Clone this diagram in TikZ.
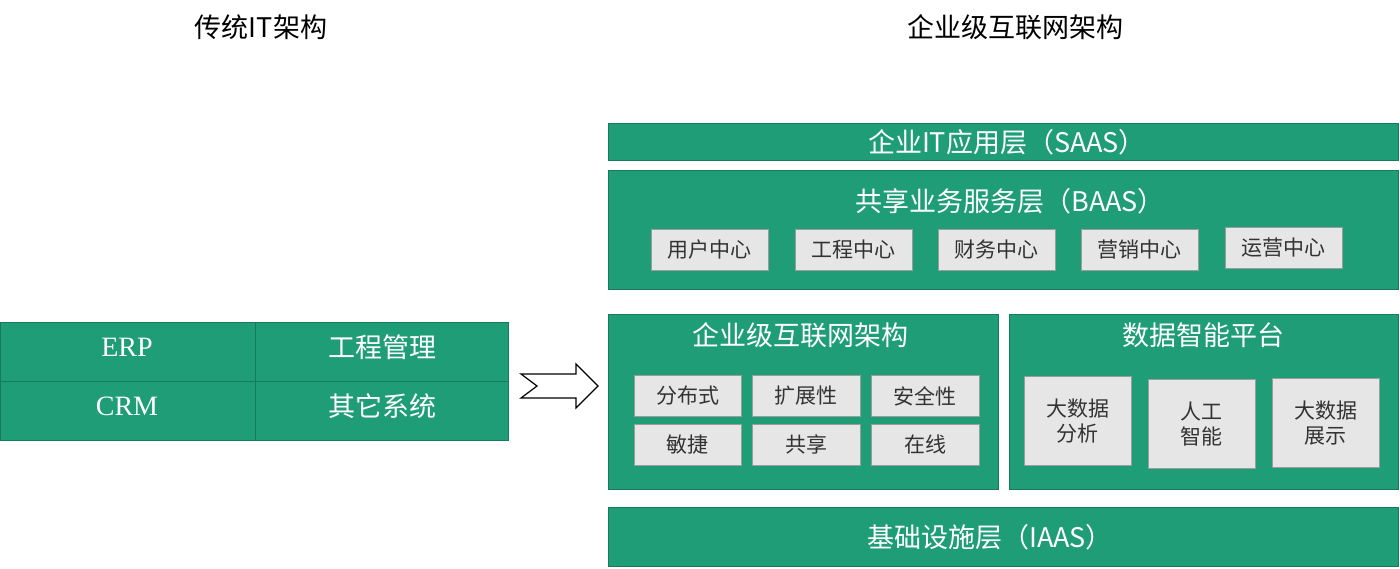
\documentclass[tikz,border=0pt]{standalone}
\usepackage{fontspec}
\setmainfont{Liberation Serif}
\newfontfamily\cjk{Noto Sans CJK SC}
\definecolor{tgreen}{HTML}{1F9D77}
\definecolor{tborder}{HTML}{187A5D}
\definecolor{gbox}{HTML}{E6E6E6}
\definecolor{gborder}{HTML}{9C9C9C}
\definecolor{gtext}{HTML}{333333}
\begin{document}
\begin{tikzpicture}[x=1pt,y=-1pt,
  greenbox/.style={fill=tgreen,draw=tborder,line width=1pt,anchor=north west,inner sep=0pt},
  graybox/.style={fill=gbox,draw=gborder,line width=0.8pt,anchor=north west,inner sep=0pt,
    text=gtext,font=\cjk\fontsize{21}{25}\selectfont,align=center},
  wtitle/.style={text=white,font=\cjk\fontsize{27}{31}\selectfont,inner sep=0pt},
  htitle/.style={text=black,font=\cjk\fontsize{27}{31}\selectfont,inner sep=0pt},
  cell/.style={text=white,inner sep=0pt}]
\useasboundingbox (0,0) rectangle (1400,569);
\fill[white] (0,0) rectangle (1400,569);

% headings
\node[htitle] (h1) at (261,27) {传统IT架构};
\node[htitle] (h2) at (1015,27) {企业级互联网架构};

% left table
\node[greenbox,minimum width=508pt,minimum height=118pt] (tbl) at (0,322) {};
\draw[tborder,line width=0.8pt] (0,381) -- (508,381);
\draw[tborder,line width=0.8pt] (255,322) -- (255,440);
\node[cell,font=\fontsize{28}{32}\selectfont] (erp) at (127,347) {ERP};
\node[cell,font=\cjk\fontsize{27}{31}\selectfont] (gc) at (382,347) {工程管理};
\node[cell,font=\fontsize{28}{32}\selectfont] (crm) at (127,406) {CRM};
\node[cell,font=\cjk\fontsize{27}{31}\selectfont] (qt) at (382,406) {其它系统};

% arrow
\draw[black,line width=1.2pt,fill=white,line join=miter]
  (521,374) -- (576,374) -- (576,364) -- (598,386) -- (576,408) -- (576,398) -- (521,398) -- (537,386) -- cycle;

% SAAS
\node[greenbox,minimum width=790pt,minimum height=37pt] (saas) at (608,123) {};
\node[wtitle] (saast) at (1007,142) {企业IT应用层（SAAS）};

% BAAS
\node[greenbox,minimum width=790pt,minimum height=119pt] (baas) at (608,170) {};
\node[wtitle] (baast) at (1010,201) {共享业务服务层（BAAS）};
\node[graybox,minimum width=117pt,minimum height=41pt] (b1) at (651,229) {用户中心};
\node[graybox,minimum width=117pt,minimum height=41pt] (b2) at (795,229) {工程中心};
\node[graybox,minimum width=117pt,minimum height=41pt] (b3) at (938,229) {财务中心};
\node[graybox,minimum width=117pt,minimum height=41pt] (b4) at (1081,229) {营销中心};
\node[graybox,minimum width=117pt,minimum height=41pt] (b5) at (1225,227) {运营中心};

% enterprise internet architecture
\node[greenbox,minimum width=390pt,minimum height=175pt] (eia) at (608,314) {};
\node[wtitle] (eiat) at (800,335) {企业级互联网架构};
\node[graybox,minimum width=107pt,minimum height=41pt] (e1) at (634,375) {分布式};
\node[graybox,minimum width=108pt,minimum height=41pt] (e2) at (752,375) {扩展性};
\node[graybox,minimum width=108pt,minimum height=41pt] (e3) at (871,375) {安全性};
\node[graybox,minimum width=107pt,minimum height=41pt] (e4) at (634,424) {敏捷};
\node[graybox,minimum width=108pt,minimum height=41pt] (e5) at (752,424) {共享};
\node[graybox,minimum width=108pt,minimum height=41pt] (e6) at (871,424) {在线};

% data intelligence platform
\node[greenbox,minimum width=389pt,minimum height=175pt] (dip) at (1009,314) {};
\node[wtitle] (dipt) at (1203,335) {数据智能平台};
\node[graybox,minimum width=107pt,minimum height=89pt] (d1) at (1024,376) {大数据\\分析};
\node[graybox,minimum width=107pt,minimum height=89pt] (d2) at (1148,379) {人工\\智能};
\node[graybox,minimum width=107pt,minimum height=89pt] (d3) at (1272,378) {大数据\\展示};

% IAAS
\node[greenbox,minimum width=790pt,minimum height=59pt] (iaas) at (608,507) {};
\node[wtitle] (iaast) at (990,537) {基础设施层（IAAS）};
\end{tikzpicture}
\end{document}
